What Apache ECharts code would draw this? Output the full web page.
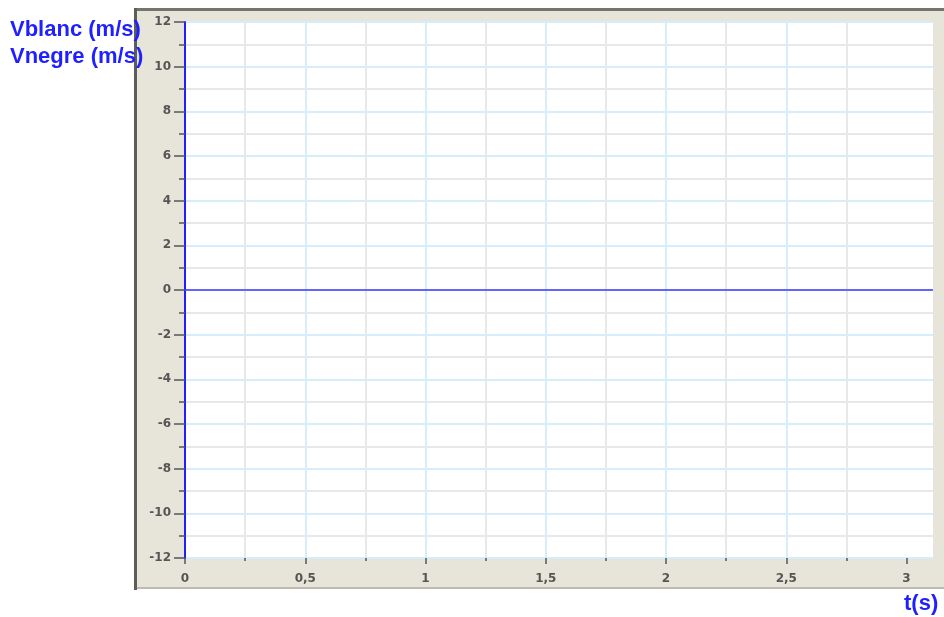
<!DOCTYPE html>
<html>
<head>
<meta charset="utf-8">
<script src="https://cdn.jsdelivr.net/npm/echarts@6/dist/echarts.min.js"></script>
<style>
  html, body { margin: 0; padding: 0; background: #ffffff; }
  #chart { width: 944px; height: 617px; }
</style>
</head>
<body>
<div id="chart"></div>
<script>
// Time samples (s) and the two velocity records (m/s)
const timeS = [0, 3.11];
const vBlanc = [0, 0];
const vNegre = [0, 0];

// Axis ranges and labelled tick positions
const xMin = 0, xMax = 3.11, xStep = 0.5;
const yMin = -12, yMax = 12, yStep = 2;
const xTicks = [0, 0.5, 1, 1.5, 2, 2.5, 3];

const blue = '#1f1fff';
const lineBlue = '#3a3aff';
const gridBlue = '#d6edfb';
const gridGray = '#e8e8e8';
const tickGray = '#555555';
const titleFont = 'bold 22px "Liberation Sans", Arial, sans-serif';

const chart = echarts.init(document.getElementById('chart'), null, { renderer: 'canvas' });

const pairs = (ys) => timeS.map((t, i) => [t, ys[i]]);

chart.setOption({
  animation: false,
  backgroundColor: '#ffffff',
  graphic: [
    // instrument panel behind the plot
    { type: 'rect', z: -10, shape: { x: 135, y: 9, width: 809, height: 580 },
      style: { fill: '#e7e5da' } },
    { type: 'rect', z: -9, shape: { x: 134, y: 8, width: 810, height: 3 },
      style: { fill: '#75756e' } },
    { type: 'rect', z: -9, shape: { x: 134, y: 8, width: 3, height: 582 },
      style: { fill: '#5e5e58' } },
    { type: 'rect', z: -9, shape: { x: 137, y: 587, width: 807, height: 2 },
      style: { fill: '#bdbbb0' } },
    { type: 'text', z: 100, left: 10, top: 19,
      style: { text: 'Vblanc (m/s)', fill: blue, font: titleFont } },
    { type: 'text', z: 100, left: 10, top: 46,
      style: { text: 'Vnegre (m/s)', fill: blue, font: titleFont } },
    { type: 'text', z: 100, left: 904, top: 593,
      style: { text: 't(s)', fill: blue, font: titleFont } }
  ],
  grid: {
    left: 185, top: 22, right: 11, bottom: 59,
    show: true, backgroundColor: '#ffffff', borderWidth: 0
  },
  xAxis: {
    type: 'value', min: xMin, max: xMax, interval: xStep,
    axisLine: { show: false, onZero: false },
    axisTick: { show: true, length: 6, customValues: xTicks,
      lineStyle: { color: tickGray, width: 1.5 } },
    minorTick: { show: true, splitNumber: 2, length: 3, lineStyle: { color: tickGray, width: 1.5 } },
    splitLine: { show: true, showMinLine: false, showMaxLine: false,
      lineStyle: { color: gridBlue, width: 2 } },
    minorSplitLine: { show: true, lineStyle: { color: gridGray, width: 2 } },
    axisLabel: {
      color: tickGray, fontSize: 12, fontWeight: 'bold', margin: 15,
      fontFamily: '"DejaVu Sans", sans-serif',
      customValues: xTicks,
      formatter: (v) => String(v).replace('.', ',')
    }
  },
  yAxis: {
    type: 'value', min: yMin, max: yMax, interval: yStep,
    axisLine: { show: true, onZero: false, lineStyle: { color: blue, width: 2 } },
    axisTick: { show: true, length: 11, lineStyle: { color: tickGray, width: 1.5 } },
    minorTick: { show: true, splitNumber: 2, length: 6, lineStyle: { color: tickGray, width: 1.5 } },
    splitLine: { show: true, lineStyle: { color: gridBlue, width: 2 } },
    minorSplitLine: { show: true, lineStyle: { color: gridGray, width: 2 } },
    axisLabel: {
      color: tickGray, fontSize: 12, fontWeight: 'bold', margin: 14,
      fontFamily: '"DejaVu Sans", sans-serif'
    }
  },
  series: [
    { name: 'Vblanc', type: 'line', data: pairs(vBlanc), showSymbol: false,
      lineStyle: { color: lineBlue, width: 1 }, z: 5 },
    { name: 'Vnegre', type: 'line', data: pairs(vNegre), showSymbol: false,
      lineStyle: { color: lineBlue, width: 1 }, z: 6 }
  ]
});
</script>
</body>
</html>
